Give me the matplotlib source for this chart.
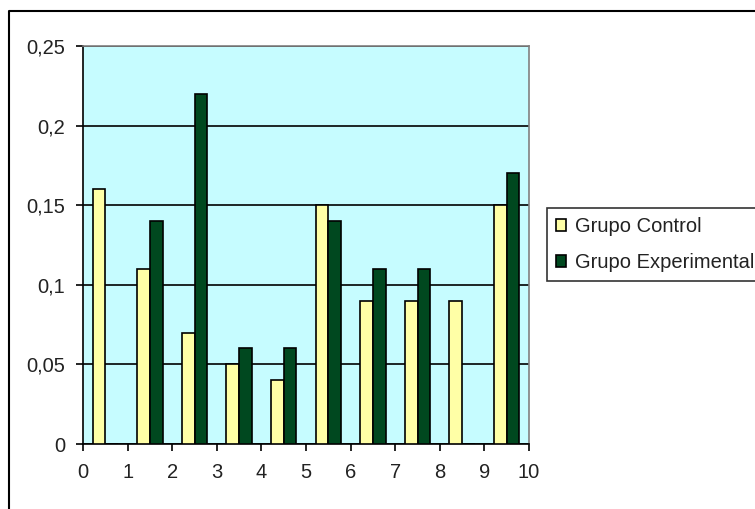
import matplotlib
matplotlib.use("Agg")
import matplotlib.pyplot as plt
import matplotlib.ticker as ticker
from matplotlib.lines import Line2D
import numpy as np

categories = [0, 1, 2, 3, 4, 5, 6, 7, 8, 9]
control = [0.16, 0.11, 0.07, 0.05, 0.04, 0.15, 0.09, 0.09, 0.09, 0.15]
experimental = [0.0, 0.14, 0.22, 0.06, 0.06, 0.14, 0.11, 0.11, 0.0, 0.17]
labels = ["Grupo Control", "Grupo Experimental"]

plt.rcParams['font.family'] = ['Liberation Sans', 'DejaVu Sans']
plt.rcParams['font.size'] = 14.5

fig = plt.figure(figsize=(7.55, 5.09), dpi=100)
ax = fig.add_axes([83/755, 65/509, 446/755, 398/509])
ax.set_facecolor("#C6FCFF")

wdh = 1 / 3.5  # two bars + 150% gap
x = np.array(categories, dtype=float)
ax.bar(x + 0.5 - wdh, control, width=wdh, align='edge',
       color="#FFFFA6", edgecolor="black", linewidth=1.2, label=labels[0], zorder=3)
ax.bar(x + 0.5, experimental, width=wdh, align='edge',
       color="#00481F", edgecolor="black", linewidth=1.2, label=labels[1], zorder=3)

ax.set_xlim(0, 10)
ax.set_ylim(0, 0.25)
ax.xaxis.set_major_locator(ticker.MultipleLocator(1))
ax.yaxis.set_major_locator(ticker.MultipleLocator(0.05))
ax.yaxis.set_major_formatter(ticker.FuncFormatter(
    lambda v, p: "0" if abs(v) < 1e-9 else ("%g" % round(v, 2)).replace(".", ",")))
ax.grid(axis='y', color="black", linewidth=1.2, zorder=1)
ax.tick_params(direction='out', length=5, width=1.2, color="black",
               labelcolor="#222222")
ax.tick_params(axis='x', pad=8.5)
ax.tick_params(axis='y', pad=8)

for s in ["left", "bottom"]:
    ax.spines[s].set_color("black")
    ax.spines[s].set_linewidth(1.2)
for s in ["top", "right"]:
    ax.spines[s].set_color("#808080")
    ax.spines[s].set_linewidth(1.2)

leg = fig.legend(loc="upper left", bbox_to_anchor=(547/755, 1 - 208/509),
                 frameon=True, fancybox=False, edgecolor="black", fontsize=14.5,
                 handlelength=0.5, handleheight=0.5, handletextpad=0.45,
                 borderpad=0.45, labelspacing=0.85, borderaxespad=0)
leg.get_frame().set_linewidth(1.2)
for t in leg.get_texts():
    t.set_color("#222222")

# outer chart border
fig.add_artist(Line2D([8.5/755, 8.5/755, 1.0], [0, 1 - 11/509, 1 - 11/509],
                      color="black", linewidth=1.5, transform=fig.transFigure))

fig.savefig("out.png", dpi=100)
